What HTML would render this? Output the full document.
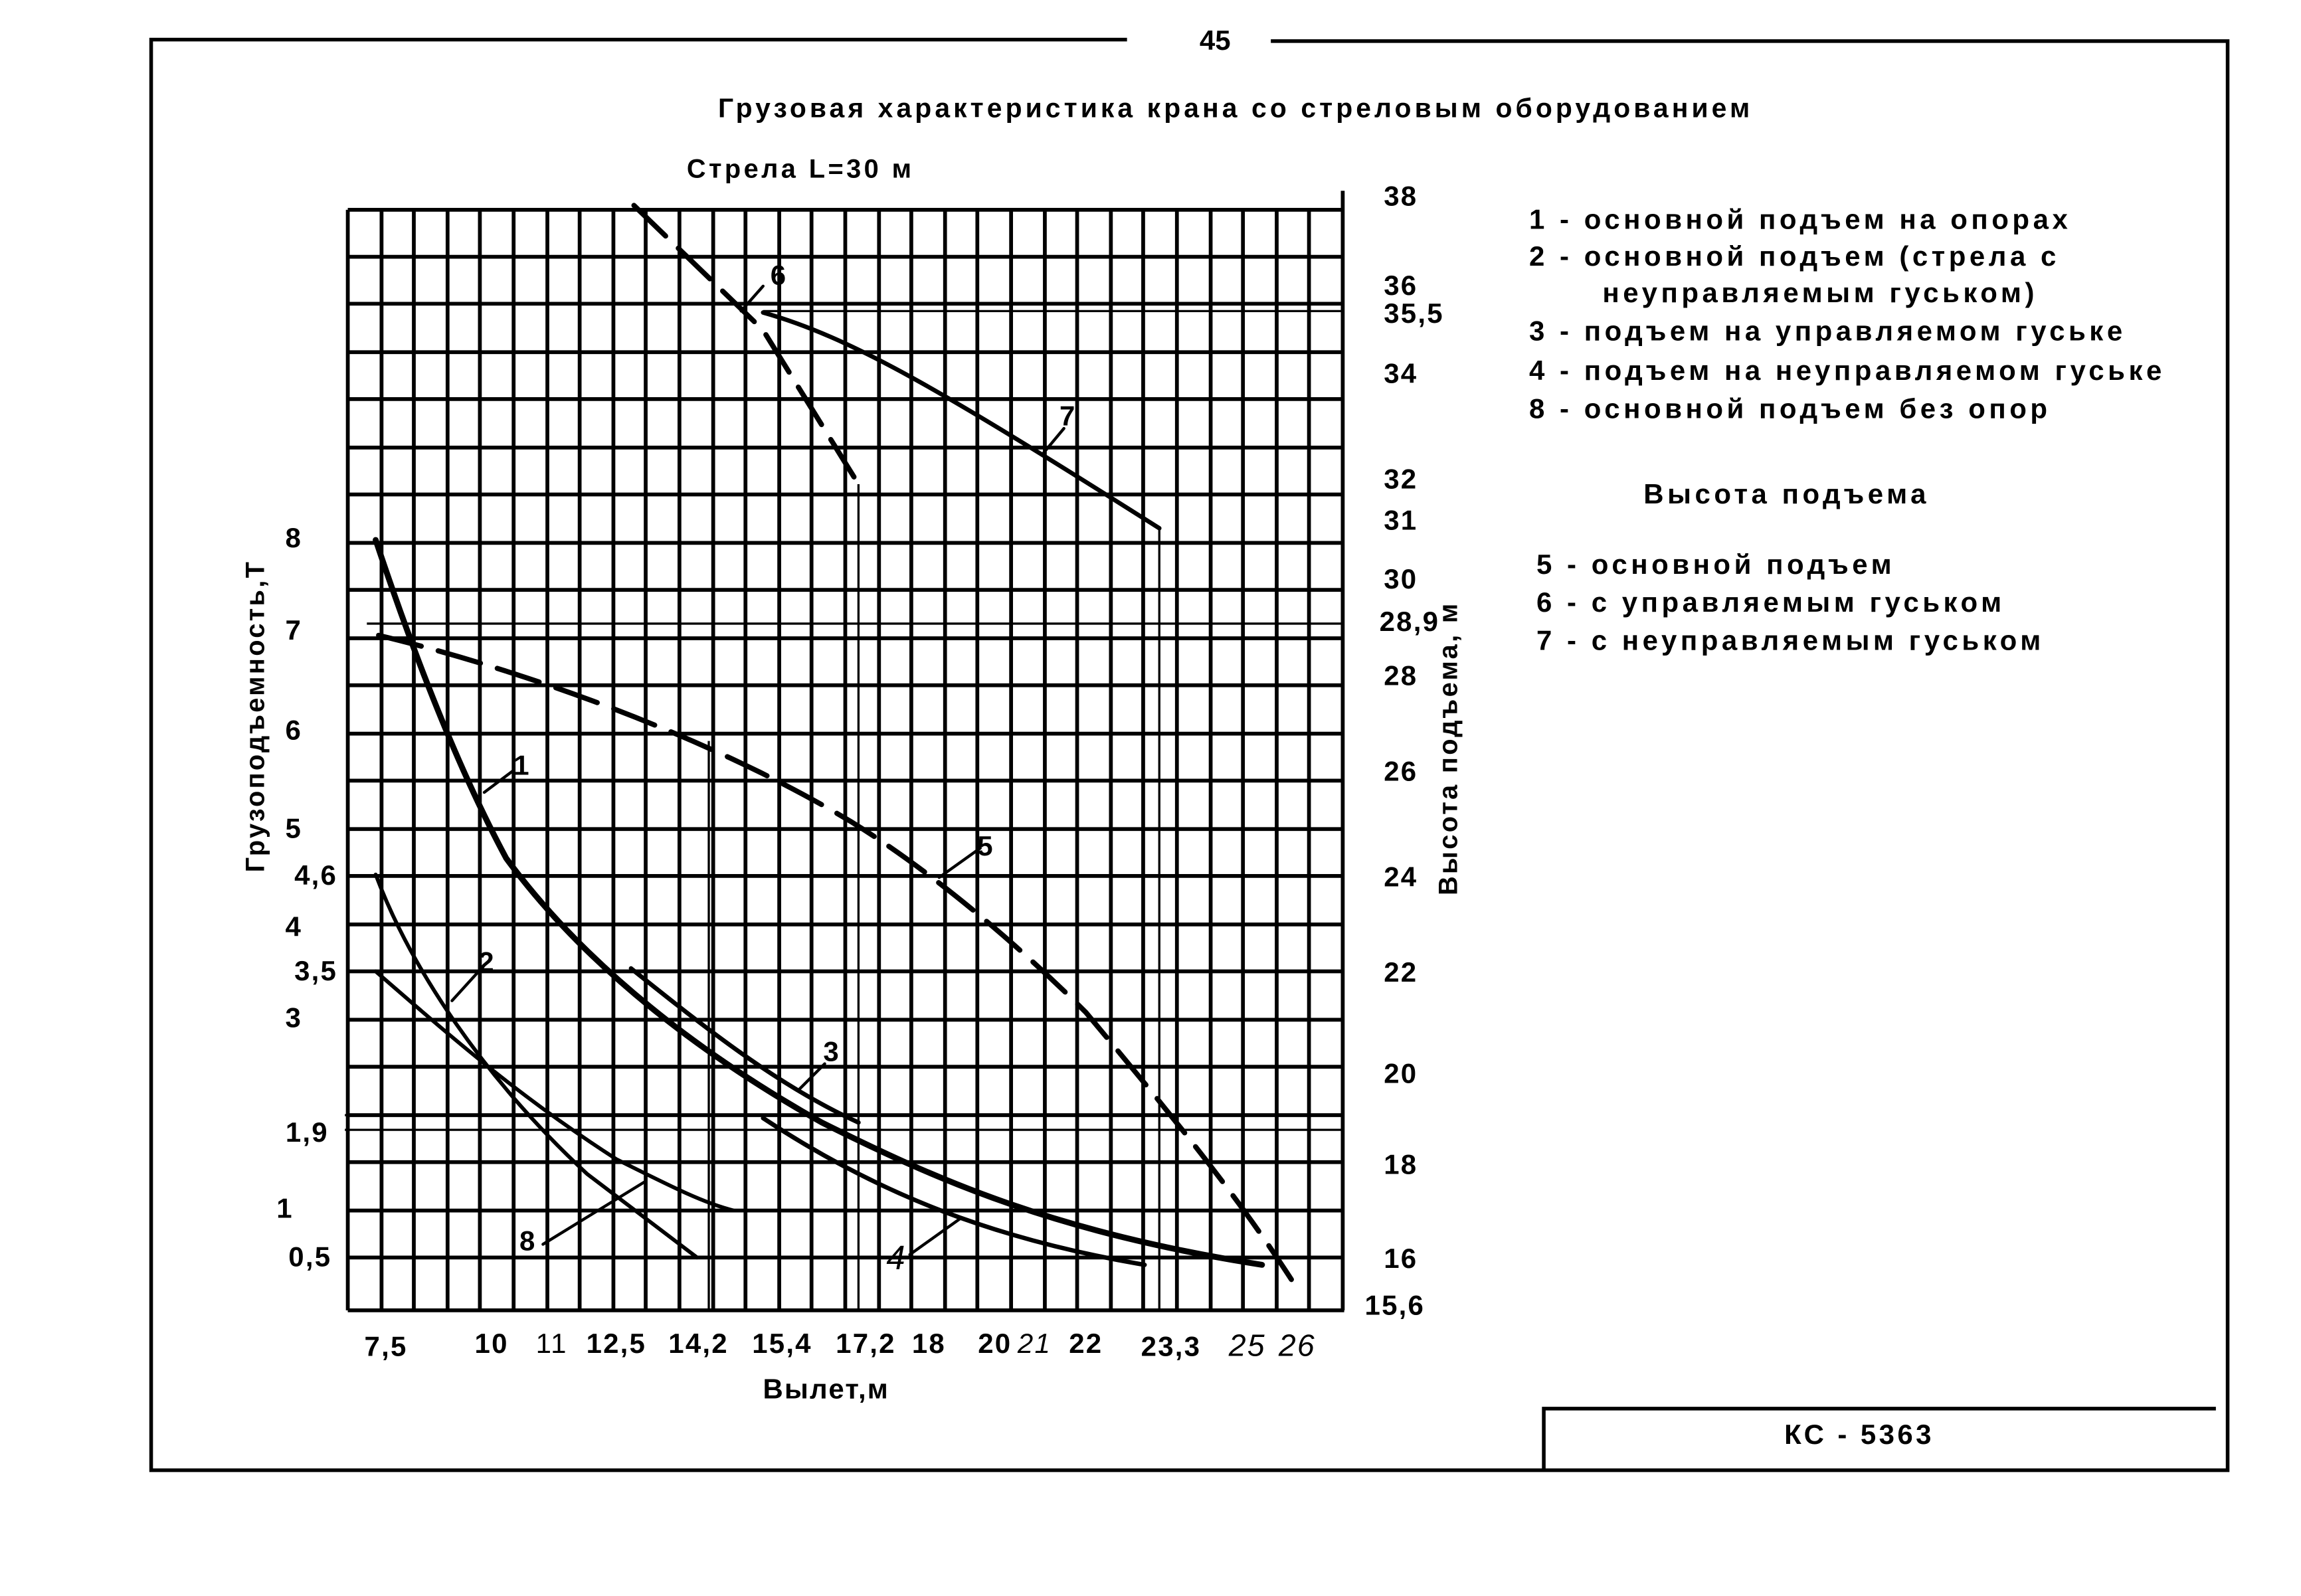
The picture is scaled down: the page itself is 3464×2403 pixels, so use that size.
<!DOCTYPE html>
<html><head><meta charset="utf-8"><style>html,body{margin:0;padding:0;background:#fff}svg{display:block}</style></head><body>
<svg width="3464" height="2403" viewBox="0 0 1568 1087.7" preserveAspectRatio="none" xmlns="http://www.w3.org/2000/svg" font-family="Liberation Sans, sans-serif" font-weight="bold" fill="#000">
<rect width="1568" height="1088" fill="#fff"/>
<g stroke="#000" fill="none" stroke-width="2.5">
<path d="M768 27 H103 V1002 H1518 V28 H866"/>
<path d="M1052 1002 V960 H1510"/>
</g>
<text x="828" y="34" font-size="19" text-anchor="middle">45</text>
<text x="842" y="80" font-size="18.5" text-anchor="middle" letter-spacing="2.3">Грузовая характеристика крана со стреловым оборудованием</text>
<text x="468" y="121" font-size="18" letter-spacing="2">Стрела  L=30 м</text>
<g stroke="#000" stroke-width="2.6">
<path d="M237 143V893M260 143V893M282 143V893M305 143V893M327 143V893M350 143V893M373 143V893M395 143V893M418 143V893M440 143V893M463 143V893M486 143V893M508 143V893M531 143V893M553 143V893M576 143V893M599 143V893M621 143V893M644 143V893M666 143V893M689 143V893M712 143V893M734 143V893M757 143V893M779 143V893M802 143V893M825 143V893M847 143V893M870 143V893M892 143V893M915 130V893"/>
<path d="M237 143H916M237 175H916M237 207H916M237 240H916M237 272H916M237 305H916M237 337H916M237 370H916M237 402H916M237 435H916M237 467H916M237 500H916M237 532H916M237 565H916M237 597H916M237 630H916M237 662H916M237 695H916M237 727H916M237 760H916M237 792H916M237 825H916M237 857H916M237 893H916"/>
</g>
<g stroke="#000" stroke-width="1.5" fill="none">
<path d="M520 212H916M250 425H916M235 760H916M483 505V893M585 330V893M790 360V893M235 770H916"/>
</g>
<g stroke="#000" fill="none" stroke-linecap="round">
<path d="M256 368 C280 440 310 520 345 585 C400 660 480 720 560 765 C640 805 720 840 860 862" stroke-width="4"/>
<path d="M430 660 C480 700 530 740 585 765" stroke-width="3"/>
<path d="M520 762 C600 815 680 845 780 862" stroke-width="3"/>
<path d="M256 596 C280 660 330 735 400 800 L475 857" stroke-width="2.6"/>
<path d="M256 662 C300 700 350 745 420 790 C460 810 480 820 500 825" stroke-width="2.6"/>
<path d="M258 433 C350 455 480 500 580 560 C640 597 700 650 740 690 C790 750 840 810 880 872" stroke-width="3.5" stroke-dasharray="30 12"/>
<path d="M432 140 L520 225 L585 330" stroke-width="3.5" stroke-dasharray="30 12"/>
<path d="M520 213 C580 230 640 265 790 360" stroke-width="3"/>
<path d="M330 540 L350 525M308 682 L328 660M545 742 L562 725M370 848 L440 805M620 855 L655 830M640 598 L668 578M505 212 L520 195M710 310 L725 292" stroke-width="2"/>
</g>
<g font-size="19">
<text x="350" y="528">1</text><text x="326" y="662">2</text><text x="561" y="723">3</text>
<text x="604" y="865" font-style="italic" font-weight="normal" font-size="23">4</text>
<text x="666" y="583">5</text><text x="525" y="194">6</text><text x="722" y="290">7</text><text x="354" y="852">8</text>
</g>
<g font-size="19" text-anchor="end" letter-spacing="1">
<text x="206" y="373">8</text><text x="206" y="436">7</text><text x="206" y="504">6</text><text x="206" y="571">5</text>
<text x="230" y="603">4,6</text><text x="206" y="638">4</text><text x="230" y="668">3,5</text><text x="206" y="700">3</text>
<text x="224" y="778">1,9</text><text x="200" y="830">1</text><text x="226" y="863">0,5</text>
</g>
<g font-size="19" letter-spacing="1">
<text x="943" y="140">38</text><text x="943" y="201">36</text><text x="943" y="220">35,5</text><text x="943" y="261">34</text>
<text x="943" y="333">32</text><text x="943" y="361">31</text><text x="943" y="401">30</text><text x="940" y="430">28,9</text>
<text x="943" y="467">28</text><text x="943" y="532">26</text><text x="943" y="604">24</text><text x="943" y="669">22</text>
<text x="943" y="738">20</text><text x="943" y="800">18</text><text x="943" y="864">16</text><text x="930" y="896">15,6</text>
</g>
<g font-size="19" text-anchor="middle" letter-spacing="1">
<text x="263" y="924">7,5</text><text x="335" y="922">10</text><text x="376" y="922" font-weight="normal">11</text>
<text x="420" y="922">12,5</text><text x="476" y="922">14,2</text><text x="533" y="922">15,4</text><text x="590" y="922">17,2</text>
<text x="633" y="922">18</text><text x="678" y="922">20</text><text x="705" y="922" font-weight="normal" font-style="italic">21</text>
<text x="740" y="922">22</text><text x="798" y="924">23,3</text><text x="850" y="924" font-weight="normal" font-style="italic" font-size="21">25</text>
<text x="884" y="924" font-weight="normal" font-style="italic" font-size="21">26</text>
<text x="563" y="953">Вылет,м</text>
</g>
<text transform="translate(180 488) rotate(-90)" font-size="18" text-anchor="middle" letter-spacing="1.5">Грузоподъемность,Т</text>
<text transform="translate(993 510) rotate(-90)" font-size="18" text-anchor="middle" letter-spacing="1.5">Высота подъема, м</text>
<g font-size="19" letter-spacing="2.5">
<text x="1042" y="156">1 - основной подъем на опорах</text>
<text x="1042" y="181">2 - основной подъем (стрела с</text>
<text x="1092" y="206">неуправляемым гуськом)</text>
<text x="1042" y="232">3 - подъем на управляемом гуське</text>
<text x="1042" y="259">4 - подъем на неуправляемом гуське</text>
<text x="1042" y="285">8 - основной подъем без опор</text>
<text x="1120" y="343">Высота подъема</text>
<text x="1047" y="391">5 - основной подъем</text>
<text x="1047" y="417">6 - с управляемым гуськом</text>
<text x="1047" y="443">7 - с неуправляемым гуськом</text>
</g>
<text x="1267" y="984" font-size="19" text-anchor="middle" letter-spacing="2">КС - 5363</text>
</svg>
</body></html>
